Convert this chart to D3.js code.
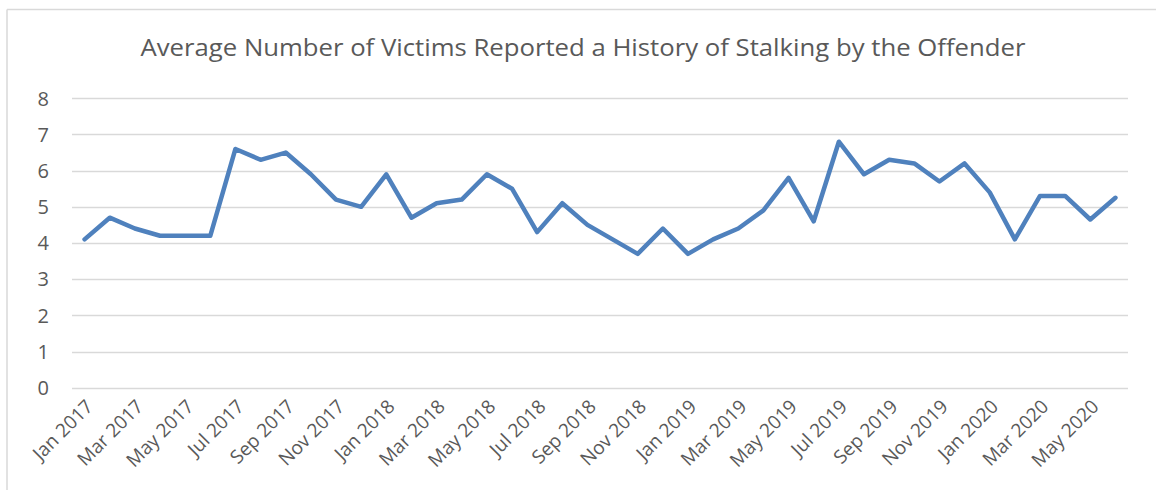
<!DOCTYPE html>
<html>
<head>
<meta charset="utf-8">
<script src="https://cdn.jsdelivr.net/npm/d3@7"></script>
<style>
  body { margin: 0; background: #fff; }
  svg { display: block; font-family: "Open Sans", sans-serif; }
</style>
</head>
<body>
<div id="chart"></div>
<script>
var months = ["Jan", "Feb", "Mar", "Apr", "May", "Jun", "Jul", "Aug", "Sep", "Oct", "Nov", "Dec"];
var years = [2017, 2018, 2019, 2020];

var values2017 = [4.1, 4.7, 4.4, 4.2, 4.2, 4.2, 6.6, 6.3, 6.5, 5.9, 5.2, 5.0];
var values2018 = [5.9, 4.7, 5.1, 5.2, 5.9, 5.5, 4.3, 5.1, 4.5, 4.1, 3.7, 4.4];
var values2019 = [3.7, 4.1, 4.4, 4.9, 5.8, 4.6, 6.8, 5.9, 6.3, 6.2, 5.7, 6.2];
var values2020 = [5.4, 4.1, 5.3, 5.3, 4.65, 5.25];

var yTicks = [0, 1, 2, 3, 4, 5, 6, 7, 8];
var title = "Average Number of Victims Reported a History of Stalking by the Offender";

var allValues = [values2017, values2018, values2019, values2020];
var data = [];
allValues.forEach(function (arr, i) {
	arr.forEach(function (v, j) {
		data.push({ label: months[j] + " " + years[i], value: v });
	});
});

var width = 1156, height = 497;
var svg = d3.select("#chart").append("svg")
	.attr("width", width)
	.attr("height", height);

// chart frame (only top and left edges show in the picture)
svg.append("line").attr("x1", 7).attr("y1", 9.5).attr("x2", width).attr("y2", 9.5)
	.attr("stroke", "#d9d9d9").attr("stroke-width", 1.5);
svg.append("line").attr("x1", 7).attr("y1", 9.5).attr("x2", 7).attr("y2", 490)
	.attr("stroke", "#d9d9d9").attr("stroke-width", 1.5);

var x = d3.scaleBand()
	.domain(data.map(function (d) { return d.label; }))
	.range([72, 1128]);

var y = d3.scaleLinear()
	.domain([0, 8])
	.range([387.7, 98.3]);

// gridlines
svg.append("g")
	.selectAll("line")
	.data(yTicks)
	.enter()
	.append("line")
	.attr("x1", 72)
	.attr("x2", 1128)
	.attr("y1", function (d) { return Math.round(y(d)) + 0.5; })
	.attr("y2", function (d) { return Math.round(y(d)) + 0.5; })
	.attr("stroke", "#d9d9d9")
	.attr("stroke-width", 1.3);

// y labels
svg.append("g")
	.selectAll("text")
	.data(yTicks)
	.enter()
	.append("text")
	.attr("x", 49)
	.attr("y", function (d) { return y(d); })
	.attr("dy", "0.36em")
	.attr("text-anchor", "end")
	.attr("fill", "#595959")
	.style("font-size", "20px")
	.text(function (d) { return d; });

// x labels, every other month
var xLabels = data.filter(function (d, i) { return i % 2 == 0; });
svg.append("g")
	.selectAll("text")
	.data(xLabels)
	.enter()
	.append("text")
	.attr("transform", function (d) {
		return "translate(" + (x(d.label) + x.bandwidth() / 2 + 5) + ",403) rotate(-45)";
	})
	.attr("dy", "0.35em")
	.attr("text-anchor", "end")
	.attr("fill", "#595959")
	.style("font-size", "19px")
	.text(function (d) { return d.label; });

// line
var line = d3.line()
	.x(function (d) { return x(d.label) + x.bandwidth() / 2; })
	.y(function (d) { return y(d.value); });

svg.append("path")
	.datum(data)
	.attr("d", line)
	.attr("fill", "none")
	.attr("stroke", "#4f81bd")
	.attr("stroke-width", 4.5)
	.attr("stroke-linejoin", "round")
	.attr("stroke-linecap", "round");

// title
svg.append("text")
	.attr("x", 583)
	.attr("y", 56)
	.attr("text-anchor", "middle")
	.attr("fill", "#595959")
	.style("font-size", "24px")
	.attr("textLength", 885)
	.attr("lengthAdjust", "spacingAndGlyphs")
	.text(title);
</script>
</body>
</html>
